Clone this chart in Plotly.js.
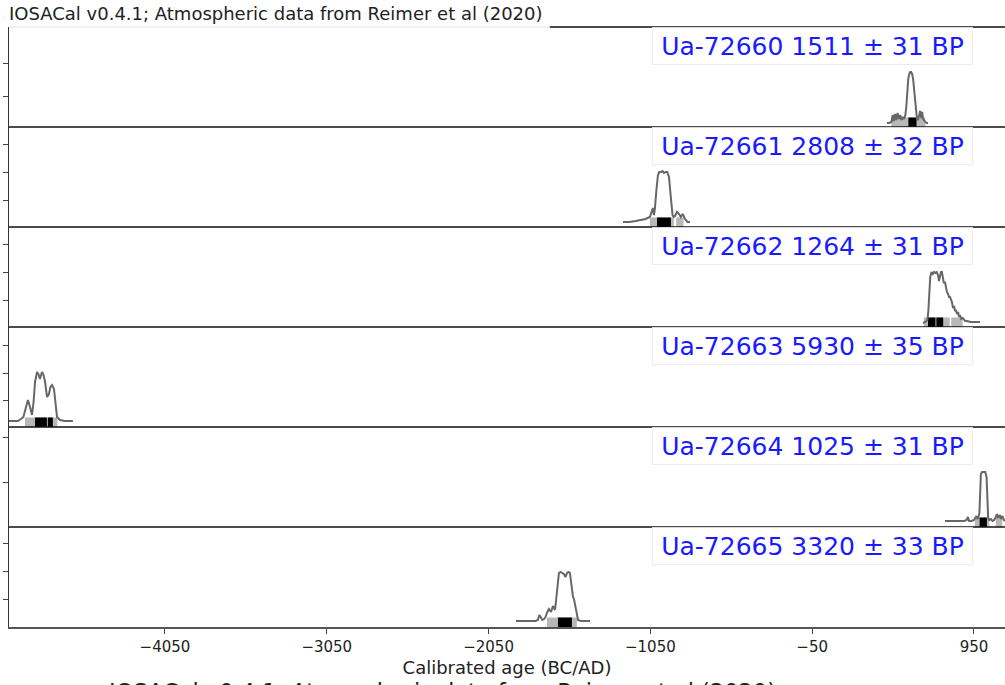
<!DOCTYPE html>
<html>
<head>
<meta charset="utf-8">
<script src="https://cdn.plot.ly/plotly-3.0.1.min.js"></script>
<style>html,body{margin:0;padding:0;background:#fff;}#chart{width:1005px;height:685px;}</style>
</head>
<body>
<div id="chart"></div>
<script>
// ---- data ----
const sampleIds = ['Ua-72660', 'Ua-72661', 'Ua-72662', 'Ua-72663', 'Ua-72664', 'Ua-72665'];
const bpAges = [1511, 2808, 1264, 5930, 1025, 3320];
const bpErrors = [31, 32, 31, 35, 31, 33];

const p1Years = [412, 425, 440, 448, 455, 462, 470, 478, 486, 494, 502, 510, 518, 526, 532, 538, 544, 550, 556, 562, 568, 574, 580, 586, 592, 598, 604, 610, 618, 624, 630, 636, 642, 650, 658, 666];
const p1Dens  = [0.04, 0.04, 0.05, 0.12, 0.06, 0.13, 0.07, 0.14, 0.08, 0.12, 0.07, 0.10, 0.08, 0.12, 0.20, 0.36, 0.48, 0.53, 0.55, 0.55, 0.53, 0.48, 0.38, 0.24, 0.12, 0.08, 0.07, 0.12, 0.16, 0.09, 0.15, 0.08, 0.06, 0.05, 0.04, 0.04];

const p2Years = [-1219, -1180, -1140, -1114, -1080, -1053, -1040, -1034, -1028, -1022, -1012, -1003, -995, -985, -975, -965, -955, -945, -935, -927, -920, -913, -906, -898, -885, -872, -862, -850, -836, -820, -805];
const p2Dens  = [0.05, 0.05, 0.06, 0.07, 0.08, 0.10, 0.17, 0.19, 0.12, 0.18, 0.38, 0.52, 0.55, 0.55, 0.56, 0.54, 0.55, 0.55, 0.50, 0.38, 0.22, 0.12, 0.10, 0.11, 0.15, 0.13, 0.10, 0.13, 0.08, 0.05, 0.05];

const p3Years = [635, 650, 662, 668, 674, 680, 688, 696, 704, 712, 720, 728, 734, 740, 746, 752, 758, 764, 771, 777, 783, 790, 796, 802, 808, 814, 821, 827, 833, 839, 845, 852, 858, 864, 872, 882, 895, 907, 930, 960, 987];
const p3Dens  = [0.04, 0.05, 0.07, 0.15, 0.33, 0.50, 0.55, 0.53, 0.55, 0.54, 0.55, 0.52, 0.46, 0.50, 0.55, 0.55, 0.50, 0.44, 0.45, 0.38, 0.35, 0.33, 0.30, 0.30, 0.27, 0.25, 0.19, 0.21, 0.16, 0.17, 0.13, 0.15, 0.10, 0.12, 0.08, 0.09, 0.06, 0.06, 0.05, 0.05, 0.05];

const p4Years = [-5030, -4990, -4960, -4940, -4925, -4912, -4897, -4884, -4872, -4862, -4853, -4841, -4832, -4823, -4816, -4810, -4800, -4791, -4779, -4767, -4758, -4748, -4736, -4726, -4717, -4699, -4668, -4619];
const p4Dens  = [0.06, 0.06, 0.06, 0.08, 0.10, 0.18, 0.27, 0.20, 0.12, 0.25, 0.45, 0.55, 0.53, 0.48, 0.52, 0.55, 0.52, 0.45, 0.30, 0.33, 0.40, 0.42, 0.38, 0.22, 0.10, 0.07, 0.06, 0.06];

const p5Years = [771, 800, 830, 860, 890, 905, 913, 920, 935, 950, 960, 966, 972, 978, 984, 988, 993, 1000, 1010, 1020, 1028, 1033, 1038, 1045, 1055, 1065, 1075, 1085, 1092, 1100, 1110, 1118, 1126, 1135, 1145];
const p5Dens  = [0.06, 0.06, 0.06, 0.06, 0.06, 0.07, 0.10, 0.06, 0.06, 0.07, 0.09, 0.11, 0.08, 0.10, 0.14, 0.35, 0.53, 0.55, 0.55, 0.55, 0.50, 0.25, 0.09, 0.07, 0.08, 0.06, 0.07, 0.10, 0.13, 0.09, 0.12, 0.08, 0.11, 0.07, 0.06];

const p6Years = [-1881, -1840, -1800, -1760, -1745, -1736, -1728, -1718, -1707, -1698, -1689, -1677, -1664, -1652, -1639, -1631, -1622, -1615, -1605, -1595, -1585, -1575, -1565, -1555, -1547, -1540, -1535, -1528, -1522, -1512, -1504, -1497, -1480, -1450, -1423];
const p6Dens  = [0.06, 0.06, 0.06, 0.06, 0.07, 0.12, 0.10, 0.07, 0.08, 0.10, 0.14, 0.18, 0.15, 0.21, 0.17, 0.30, 0.50, 0.54, 0.55, 0.54, 0.53, 0.50, 0.54, 0.55, 0.54, 0.45, 0.35, 0.30, 0.28, 0.18, 0.12, 0.07, 0.06, 0.06, 0.06];

// calibrated ranges (start, end) in BC/AD years
const p1Range68 = [[545, 595]];
const p1Range95 = [[440, 650]];
const p2Range68 = [[-1009, -923]];
const p2Range95 = [[-1053, -905], [-890, -845]];
const p3Range68 = [[666, 712], [718, 760]];
const p3Range95 = [[640, 800], [810, 880]];
const p4Range68 = [[-4853, -4780], [-4774, -4743]];
const p4Range95 = [[-4915, -4715]];
const p5Range68 = [[985, 1030]];
const p5Range95 = [[955, 1045], [1085, 1125]];
const p6Range68 = [[-1621, -1535]];
const p6Range95 = [[-1689, -1504]];

// relative density tick marks per panel
const p1Ticks = [0.31, 0.64];
const p2Ticks = [0.27, 0.55, 0.83];
const p3Ticks = [0.27, 0.55, 0.83];
const p4Ticks = [0.27, 0.54, 0.82];
const p5Ticks = [0.45, 0.90];
const p6Ticks = [0.28, 0.56, 0.84];

const xTickVals = [-4050, -3050, -2050, -1050, -50, 950];
const xTickText = ['\u22124050', '\u22123050', '\u22122050', '\u22121050', '\u221250', '950'];

const titleText = 'IOSACal v0.4.1; Atmospheric data from Reimer et al (2020)';

// ---- build ----
const panels = [
  {years: p1Years, dens: p1Dens, r68: p1Range68, r95: p1Range95, ticks: p1Ticks},
  {years: p2Years, dens: p2Dens, r68: p2Range68, r95: p2Range95, ticks: p2Ticks},
  {years: p3Years, dens: p3Dens, r68: p3Range68, r95: p3Range95, ticks: p3Ticks},
  {years: p4Years, dens: p4Dens, r68: p4Range68, r95: p4Range95, ticks: p4Ticks},
  {years: p5Years, dens: p5Dens, r68: p5Range68, r95: p5Range95, ticks: p5Ticks},
  {years: p6Years, dens: p6Dens, r68: p6Range68, r95: p6Range95, ticks: p6Ticks}
];

const FONT = 'DejaVu Sans, Verdana, sans-serif';
const BAR_H = 0.095;
const traces = [];
const layout = {
  width: 1005, height: 685,
  margin: {l: 9, r: 0, t: 27, b: 58, pad: 0},
  paper_bgcolor: '#ffffff', plot_bgcolor: '#ffffff',
  showlegend: false,
  font: {family: FONT, color: '#222'},
  title: {text: titleText, xref: 'container', x: 9/1005, xanchor: 'left',
          yref: 'container', y: 1 - 14/685, yanchor: 'middle',
          font: {size: 18, family: FONT, color: '#222'}},
  xaxis: {
    range: [-5014, 1142], anchor: 'y6', showgrid: false, zeroline: false,
    tickvals: xTickVals, ticktext: xTickText, ticks: 'outside', ticklen: 5,
    tickcolor: '#444', tickwidth: 1, tickfont: {size: 15, family: FONT, color: '#222'},
    showline: true, linecolor: '#555', linewidth: 1.5,
    title: {text: 'Calibrated age (BC/AD)', font: {size: 18, family: FONT, color: '#222'}, standoff: 7}
  },
  shapes: [],
  annotations: []
};

function rectPoly(ranges) {
  const xs = [], ys = [];
  ranges.forEach((r, k) => {
    if (k > 0) { xs.push(null); ys.push(null); }
    xs.push(r[0], r[0], r[1], r[1], r[0]);
    ys.push(0, BAR_H, BAR_H, 0, 0);
  });
  return {xs, ys};
}

panels.forEach((p, i) => {
  const yName = 'y' + (i + 1);
  const yKey = 'yaxis' + (i === 0 ? '' : (i + 1));
  const top = 1 - i / 6, bot = 1 - (i + 1) / 6;
  layout[yKey] = {
    domain: [bot, top], range: [0, 1], anchor: 'x',
    showgrid: false, zeroline: false, showticklabels: false,
    tickvals: p.ticks, ticks: 'outside', ticklen: 5, tickcolor: '#444', tickwidth: 1,
    showline: true, linecolor: '#333', linewidth: 1.5, fixedrange: true
  };
  const y95 = rectPoly(p.r95);
  traces.push({x: y95.xs, y: y95.ys, xaxis: 'x', yaxis: yName, type: 'scatter', mode: 'lines',
    fill: 'toself', fillcolor: '#b8b8b8', line: {width: 0, color: '#b8b8b8'}, hoverinfo: 'skip'});
  const y68 = rectPoly(p.r68);
  traces.push({x: y68.xs, y: y68.ys, xaxis: 'x', yaxis: yName, type: 'scatter', mode: 'lines',
    fill: 'toself', fillcolor: '#000000', line: {width: 0, color: '#000'}, hoverinfo: 'skip'});
  traces.push({x: p.years, y: p.dens, xaxis: 'x', yaxis: yName, type: 'scatter', mode: 'lines',
    line: {color: '#676767', width: 2}, name: sampleIds[i]});

  // panel separator (top edge of each panel)
  if (i === 0) {
    layout.shapes.push({type: 'line', xref: 'paper', yref: 'paper', x0: 0, x1: 0.543, y0: top, y1: top,
      line: {color: '#e2e2e2', width: 1}});
    layout.shapes.push({type: 'line', xref: 'paper', yref: 'paper', x0: 0.543, x1: 1, y0: top, y1: top,
      line: {color: '#111', width: 1.5}});
  } else {
    layout.shapes.push({type: 'line', xref: 'paper', yref: 'paper', x0: 0, x1: 1, y0: top, y1: top,
      line: {color: '#111', width: 1.5}});
  }

  layout.annotations.push({
    text: sampleIds[i] + ' ' + bpAges[i] + ' \u00b1 ' + bpErrors[i] + ' BP',
    xref: 'paper', yref: 'paper', x: (652 - 9) / 996, xanchor: 'left',
    y: top, yanchor: 'top', showarrow: false, width: 311, height: 28, align: 'center',
    borderpad: 4, borderwidth: 1, bordercolor: 'rgba(232,232,232,0.8)',
    bgcolor: 'rgba(255,255,255,0.8)',
    font: {size: 25, family: FONT, color: '#1a1aff'}
  });
});

// second (partly cut) copy of the caption at the very bottom, as in the reference
layout.annotations.push({
  text: titleText, xref: 'paper', yref: 'paper', x: (442 - 9) / 996, xanchor: 'center',
  y: -(677 - 627) / 600, yanchor: 'top', showarrow: false,
  font: {size: 22.5, family: FONT, color: '#222'}
});

Plotly.newPlot('chart', traces, layout, {displayModeBar: false, staticPlot: true});
</script>
</body>
</html>
